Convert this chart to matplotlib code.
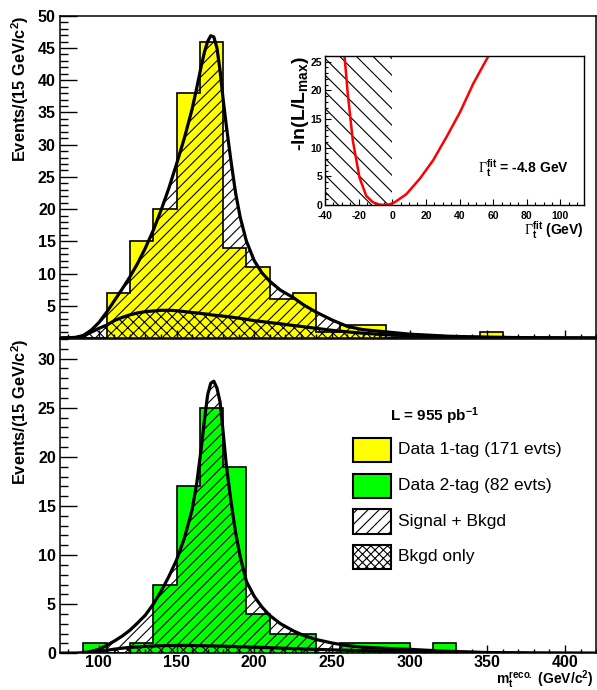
import numpy as np
import matplotlib
matplotlib.use('Agg')
import matplotlib.pyplot as plt
from matplotlib.patches import Rectangle
from matplotlib.ticker import MultipleLocator

plt.rcParams['font.family'] = ['Liberation Sans', 'DejaVu Sans']
plt.rcParams['mathtext.fontset'] = 'custom'
plt.rcParams['mathtext.rm'] = 'Liberation Serif'
plt.rcParams['mathtext.bf'] = 'Liberation Sans:bold'
plt.rcParams['mathtext.default'] = 'bf'
plt.rcParams['hatch.linewidth'] = 0.8
plt.rcParams['axes.unicode_minus'] = False

# histogram bins (15 GeV wide)
bin_edges = np.arange(75, 421, 15)
counts_1tag = [0, 0, 7, 15, 20, 38, 46, 14, 11, 6, 7, 1, 2, 2, 0, 0, 0, 0, 1, 0, 0, 0, 0]
counts_2tag = [0, 1, 0, 1, 7, 17, 25, 19, 4, 2, 2, 0, 1, 1, 1, 0, 1, 0, 0, 0, 0, 0, 0]

# fitted curves
m_grid = [75, 85, 90, 95, 100, 105, 110, 115, 120, 125, 130, 135, 140, 145, 150, 155, 160,
          163, 166, 168, 170, 172, 174, 176, 178, 180, 182, 185, 188, 191, 195, 200, 205,
          210, 217, 225, 232, 240, 250, 260, 270, 285, 300, 325, 350, 380, 420]
total_1tag = [0, 0.1, 0.4, 1.2, 2.4, 4.0, 5.8, 7.6, 9.5, 11.6, 14.0, 16.7, 19.8, 23.2, 27.0,
              31.0, 35.5, 38.8, 42.3, 44.4, 46.0, 46.9, 46.7, 45.0, 41.5, 37.0, 33.0, 27.5,
              22.5, 18.7, 15.0, 12.0, 10.1, 8.8, 7.4, 6.3, 5.1, 4.0, 2.8, 1.8, 1.3, 0.95,
              0.6, 0.28, 0.12, 0.04, 0]
bkgd_1tag = [0, 0.05, 0.3, 0.9, 1.5, 2.0, 2.7, 3.2, 3.6, 3.9, 4.1, 4.2, 4.3, 4.3, 4.25, 4.1,
             3.95, 3.9, 3.8, 3.75, 3.7, 3.6, 3.55, 3.5, 3.45, 3.4, 3.35, 3.25, 3.15, 3.05,
             2.9, 2.7, 2.55, 2.4, 2.2, 1.95, 1.75, 1.5, 1.2, 0.95, 0.75, 0.5, 0.35, 0.2,
             0.1, 0.04, 0]
total_2tag = [0, 0, 0.05, 0.2, 0.4, 0.8, 1.25, 1.75, 2.35, 3.1, 3.9, 5.0, 6.3, 7.8, 9.5,
              11.7, 14.6, 17.3, 21.0, 23.8, 26.3, 27.5, 27.7, 27.0, 25.6, 22.5, 19.2, 15.5,
              12.3, 9.8, 7.3, 5.8, 4.7, 3.85, 3.0, 2.3, 1.8, 1.4, 1.05, 0.78, 0.62, 0.5,
              0.4, 0.2, 0.08, 0.02, 0]
bkgd_2tag = [0, 0, 0.02, 0.1, 0.2, 0.3, 0.42, 0.52, 0.6, 0.65, 0.7, 0.74, 0.77, 0.79, 0.8,
             0.8, 0.79, 0.78, 0.77, 0.77, 0.76, 0.75, 0.75, 0.74, 0.73, 0.72, 0.71, 0.7,
             0.68, 0.67, 0.65, 0.62, 0.6, 0.57, 0.53, 0.48, 0.44, 0.4, 0.35, 0.31, 0.27,
             0.22, 0.17, 0.11, 0.06, 0.02, 0]

# likelihood scan for the inset
gamma_fit = [-28.4, -26.5, -23.5, -19.5, -15.5, -11.5, -8.0, -4.8, -1.5, 1.4, 8.4, 16.4,
             24.3, 32.3, 40.3, 48.2, 57.2]
nll = [26, 19.5, 11.3, 4.8, 1.6, 0.47, 0.1, 0, 0.12, 0.47, 1.9, 4.6, 7.8, 11.9, 16.2,
       21.2, 26]

legend_labels = ['Data 1-tag (171 evts)', 'Data 2-tag (82 evts)', 'Signal + Bkgd', 'Bkgd only']

fig = plt.figure(figsize=(5.97, 6.90), dpi=100)
ax_top = fig.add_axes([0.1005, 0.5101, 0.898, 0.4671])
ax_bot = fig.add_axes([0.1005, 0.0532, 0.898, 0.4555])


def draw_panel(ax, counts, total, bkgd, color):
    ax.stairs(counts, bin_edges, fill=True, color=color, zorder=1)
    ax.fill_between(m_grid, bkgd, total, facecolor='none', edgecolor='black',
                    hatch='///', linewidth=0, zorder=2)
    ax.fill_between(m_grid, 0, bkgd, facecolor='none', edgecolor='black',
                    hatch='xxx', linewidth=0, zorder=2)
    ax.stairs(counts, bin_edges, color='black', linewidth=1.2, zorder=3)
    ax.plot(m_grid, total, color='black', linewidth=2.3, zorder=4)
    ax.plot(m_grid, bkgd, color='black', linewidth=2.3, zorder=4)
    ax.set_xlim(75, 420)
    ax.xaxis.set_major_locator(MultipleLocator(50))
    ax.xaxis.set_minor_locator(MultipleLocator(10))
    ax.yaxis.set_major_locator(MultipleLocator(5))
    ax.yaxis.set_minor_locator(MultipleLocator(1))
    ax.tick_params(axis='y', which='major', direction='in', length=12, width=1, pad=3,
                   labelsize=11.5)
    ax.tick_params(axis='y', which='minor', direction='in', length=6, width=1)
    ax.tick_params(axis='x', which='major', direction='in', length=6, width=1, pad=1,
                   labelsize=11.5)
    ax.tick_params(axis='x', which='minor', direction='in', length=3, width=1)
    for sp in ax.spines.values():
        sp.set_linewidth(1.1)
    ax.set_ylabel('Events/(15 GeV/c$^2$)', loc='top', fontsize=11.8, fontweight='bold')
    ax.yaxis.set_label_coords(-0.055, 1.0)


draw_panel(ax_top, counts_1tag, total_1tag, bkgd_1tag, '#ffff00')
draw_panel(ax_bot, counts_2tag, total_2tag, bkgd_2tag, '#00ff00')

ax_top.set_ylim(0, 50)
ax_top.set_yticks(np.arange(5, 51, 5))
ax_top.tick_params(axis='x', labelbottom=False)
for lab in ax_top.get_yticklabels():
    lab.set_fontweight('bold')

ax_bot.set_ylim(0, 32)
ax_bot.set_yticks(np.arange(0, 31, 5))
for lab in ax_bot.get_xticklabels() + ax_bot.get_yticklabels():
    lab.set_fontweight('bold')
ax_bot.set_xlabel('m$_t^{reco.}$ (GeV/c$^2$)', loc='right', fontsize=10, fontweight='bold')
ax_bot.xaxis.set_label_coords(0.995, -0.048)

# legend drawn by hand
box_x, box_w, box_h = 0.546, 0.0715, 0.077
box_y = [0.609, 0.494, 0.381, 0.268]
box_face = ['#ffff00', '#00ff00', 'white', 'white']
box_hatch = [None, None, '///', 'xxxx']
ax_bot.text(0.616, 0.753, 'L = 955 pb$^{-1}$', transform=ax_bot.transAxes,
            fontsize=11, fontweight='bold', va='center', ha='left')
for y, fc, h, lab in zip(box_y, box_face, box_hatch, legend_labels):
    ax_bot.add_patch(Rectangle((box_x, y), box_w, box_h, transform=ax_bot.transAxes,
                               facecolor=fc, edgecolor='black', hatch=h, linewidth=1.5,
                               clip_on=False, zorder=5))
    ax_bot.text(0.63, y + box_h / 2, lab, transform=ax_bot.transAxes, fontsize=12.5,
                va='center', ha='left', zorder=5)

# inset with the likelihood scan
ax_in = fig.add_axes([0.5444, 0.7029, 0.4338, 0.216])
ax_in.set_facecolor('white')
ax_in.axvspan(-40, 0, facecolor='none', edgecolor='black', hatch='\\\\', linewidth=0)
ax_in.plot(gamma_fit, nll, color='#ff0000', linewidth=1.8)
ax_in.set_xlim(-40, 114)
ax_in.set_ylim(0, 26)
ax_in.xaxis.set_major_locator(MultipleLocator(20))
ax_in.xaxis.set_minor_locator(MultipleLocator(5))
ax_in.yaxis.set_major_locator(MultipleLocator(5))
ax_in.yaxis.set_minor_locator(MultipleLocator(1))
ax_in.tick_params(which='major', direction='in', length=4, width=0.8, pad=2, labelsize=7.5)
ax_in.tick_params(axis='x', which='major', pad=4)
ax_in.tick_params(which='minor', direction='in', length=2, width=0.8)
for lab in ax_in.get_xticklabels() + ax_in.get_yticklabels():
    lab.set_fontweight('bold')
for sp in ax_in.spines.values():
    sp.set_linewidth(1.0)
ax_in.set_ylabel('-ln(L/L$_{max}$)', loc='top', fontsize=14, fontweight='bold')
ax_in.yaxis.set_label_coords(-0.055, 1.0)
ax_in.text(1.0, -0.2, r'$\mathrm{\Gamma}_t^{fit}$ (GeV)', transform=ax_in.transAxes,
           ha='right', va='baseline', fontsize=10, fontweight='bold')
ax_in.text(0.59, 0.215, r'$\mathrm{\Gamma}_t^{fit}$ = -4.8 GeV', transform=ax_in.transAxes,
           ha='left', va='baseline', fontsize=10, fontweight='bold')

fig.savefig('out.png', dpi=100)
